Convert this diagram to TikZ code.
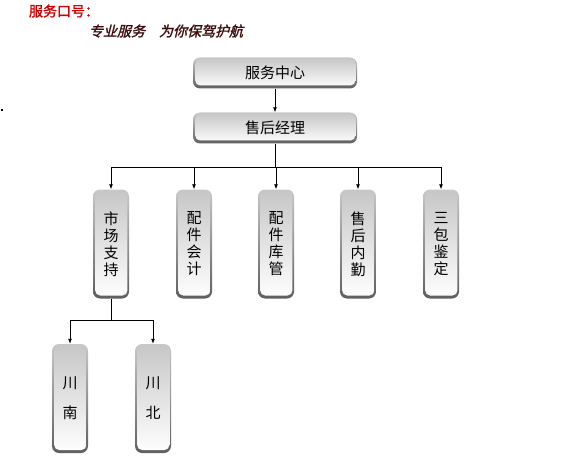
\documentclass[tikz,border=0pt]{standalone}
\usepackage{fontspec}
\usepackage{xcolor}
\usetikzlibrary{arrows.meta,positioning}
\newfontfamily\cjk{Noto Sans CJK SC}
\newfontfamily\cjkslogan[FakeSlant=0.25,FakeBold=1.5]{Noto Sans CJK SC}
\newfontfamily\cjkhead[FakeBold=1.5]{Noto Sans CJK SC}
\definecolor{edgetop}{RGB}{200,200,200}
\definecolor{edgebot}{RGB}{95,95,95}
\definecolor{boxtop}{RGB}{198,198,198}
\definecolor{headred}{RGB}{204,0,0}
\definecolor{headdark}{RGB}{60,12,12}
\tikzset{
  glossy/.style={draw=none,rounded corners=7pt,top color=edgetop,bottom color=edgebot,
    path picture={\shade[top color=boxtop,bottom color=white,rounded corners=5pt]
      ([shift={(2.2pt,3pt)}]path picture bounding box.south west) rectangle
      ([shift={(-1.6pt,-1pt)}]path picture bounding box.north east);}},
  hbox/.style={glossy,minimum width=164pt,minimum height=31pt,font=\cjk\fontsize{15}{17}\selectfont},
  vbox/.style={glossy,minimum width=36pt,minimum height=109pt,text width=18pt,align=center,inner sep=0pt,
    font=\cjk\fontsize{15}{17}\selectfont},
  arr/.style={-{Latex[length=5pt,width=4pt]},line width=0.8pt}
}

\begin{document}
\begin{tikzpicture}[x=1pt,y=-1pt]
\useasboundingbox (0,0) rectangle (572,465);
% heading
\node[text=headred,font=\cjkhead\fontsize{14}{16}\selectfont] (motto) at (64,11) {服务口号：};
\node[text=headdark,font=\cjkslogan\fontsize{14}{16}\selectfont] (slogan) at (166,31) {专业服务\quad 为你保驾护航};
\fill (0.5,109.5) rectangle (2.5,111.5);
% top
\node[hbox] (center) at (275,73) {服务中心};
\node[hbox] (mgr) at (275,128) {售后经理};
\draw[arr] (center) -- (mgr);
% departments
\foreach \i/\x/\txt in {1/111/市\\场\\支\\持,2/194/配\\件\\会\\计,3/276/配\\件\\库\\管,4/358/售\\后\\内\\勤,5/441/三\\包\\鉴\\定}{
  \node[vbox] (d\i) at (\x,244) {\txt};
}
\coordinate (bus) at (275,167);
\draw[line width=0.8pt] (mgr) -- (bus);
\draw[line width=0.8pt] (bus -| d1) -- (bus -| d5);
\foreach \i in {1,...,5}{\draw[arr] (bus -| d\i) -- (d\i);}
% regions
\node[vbox,font=\cjk\fontsize{15}{30}\selectfont] (south) at (70,398.5) {川\\南};
\node[vbox,font=\cjk\fontsize{15}{30}\selectfont] (north) at (153,398.5) {川\\北};
\coordinate (fork) at (111,320);
\draw[line width=0.8pt] (d1) -- (fork);
\draw[line width=0.8pt] (fork -| south) -- (fork -| north);
\draw[arr] (fork -| south) -- (south);
\draw[arr] (fork -| north) -- (north);
\end{tikzpicture}
\end{document}
